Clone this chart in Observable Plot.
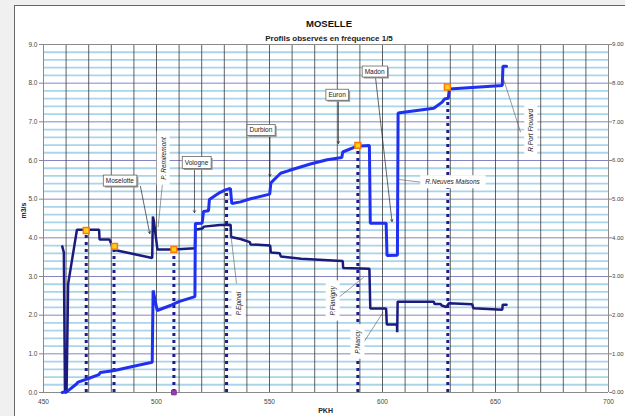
<!DOCTYPE html>
<html>
<head>
<meta charset="utf-8">
<script src="https://cdn.jsdelivr.net/npm/d3@7"></script>
<script src="https://cdn.jsdelivr.net/npm/@observablehq/plot@0.6"></script>
<style>
  body { margin: 0; background: #f0f0f0; }
  #wrap { position: relative; width: 625px; height: 416px; overflow: hidden; }
  #sheet { position: absolute; left: 14px; top: 5px; width: 700px; height: 500px; background: #fff;
           border-left: 1.5px solid #666; border-top: 1.5px solid #666; }
  #chart { position: absolute; left: 0; top: 0; }
</style>
</head>
<body>
<div id="wrap"><div id="sheet"></div><div id="chart"></div></div>
<script>
// ---- Data ----
const navyPK = [458.3, 459.0, 459.5, 460.2, 460.9, 464.8, 474.6, 474.8, 479.2, 481.0, 498.1, 498.4, 498.8, 500.4, 507.7, 517.0, 517.2, 520.2, 521.0, 528.0, 532.8, 533.0, 537.2, 541.3, 541.6, 550.3, 550.6, 554.5, 555.0, 564.0, 580.0, 582.4, 582.6, 594.2, 594.6, 601.6, 601.9, 606.4, 606.5, 606.7, 622.7, 623.0, 625.7, 626.2, 628.2, 629.4, 639.7, 640.2, 653.0, 653.2, 654.9];
const navyQ  = [3.78, 3.62, 0.00, 0.00, 2.81, 4.21, 4.21, 3.96, 3.96, 3.69, 3.48, 4.55, 4.45, 3.70, 3.70, 3.73, 4.21, 4.24, 4.29, 4.33, 4.34, 4.02, 3.97, 3.89, 3.83, 3.80, 3.62, 3.60, 3.52, 3.46, 3.41, 3.40, 3.22, 3.20, 2.17, 2.17, 1.76, 1.76, 1.56, 2.35, 2.35, 2.29, 2.29, 2.25, 2.21, 2.31, 2.28, 2.18, 2.14, 2.27, 2.27];

const bluePK = [458.3, 460.5, 464.6, 465.3, 469.3, 474.5, 475.2, 481.4, 491.4, 498.1, 498.5, 500.3, 506.2, 507.7, 509.9, 517.0, 517.2, 520.2, 520.8, 523.0, 523.4, 528.0, 530.5, 532.7, 533.3, 537.2, 541.6, 550.1, 550.6, 554.9, 558.6, 568.1, 575.5, 582.0, 582.4, 588.8, 594.2, 594.6, 601.6, 602.0, 606.6, 606.9, 622.7, 626.4, 627.4, 629.1, 629.6, 653.0, 653.3, 654.9];
const blueQ  = [0.00, 0.03, 0.22, 0.27, 0.35, 0.46, 0.52, 0.57, 0.70, 0.78, 2.64, 2.12, 2.25, 2.29, 2.35, 2.48, 4.37, 4.38, 4.68, 4.70, 4.99, 5.17, 5.24, 5.28, 4.89, 4.93, 5.01, 5.13, 5.42, 5.67, 5.74, 5.91, 6.02, 6.08, 6.22, 6.37, 6.39, 4.38, 4.38, 3.54, 3.55, 7.23, 7.35, 7.51, 7.59, 7.61, 7.85, 7.94, 8.44, 8.44];

const markPK = [468.9, 481.4, 507.7, 589.1, 628.7];
const markQ  = [4.19, 3.78, 3.70, 6.39, 7.90];
const zeroMarkPK = [507.7];
const zeroMarkQ  = [0];

const dotPK  = [468.9, 481.2, 507.7, 531.0, 589.1, 628.9];
const dotTop = [4.19, 3.78, 3.70, 5.24, 6.39, 7.60];

const boxLabels = ["Moselotte", "Vologne", "Durbion", "Euron", "Madon"];
const boxPK = [483.8, 517.7, 546.2, 579.9, 596.5];
const boxQ  = [5.47, 5.95, 6.78, 7.69, 8.29];
const arrowPK1 = [492.9, 516.8, 550.2, 580.5, 596.9];
const arrowQ1  = [5.33, 5.79, 6.62, 7.53, 8.15];
const arrowPK2 = [497.0, 516.8, 550.2, 580.5, 604.2];
const arrowQ2  = [4.11, 4.65, 5.59, 6.44, 4.42];

const rotLabels = ["P. Remiremont", "P.Epinal", "P.Flavigny", "P.Nancy", "R.Port Frouard"];
const rotPK = [503.1, 536.3, 577.9, 588.9, 665.8];
const rotQ  = [6.05, 2.30, 2.37, 1.31, 6.78];
const horLabels = ["R.Neuves Maisons"];
const horPK = [631.0];
const horQ  = [5.44];
const leadPK1 = [502.7, 532.7, 580.0, 591.6, 607.1, 653.2];
const leadQ1  = [5.44, 4.19, 2.43, 1.29, 5.51, 8.17];
const leadPK2 = [500.7, 535.4, 591.7, 600.3, 618.1, 661.1];
const leadQ2  = [4.27, 2.82, 2.98, 2.08, 5.43, 6.73];

const xTicks = [450, 500, 550, 600, 650, 700];
const yTicks = [0, 1, 2, 3, 4, 5, 6, 7, 8, 9];
const vGrid = d3.range(460, 700, 10);
const minorQ = d3.range(0.2, 9, 0.2).filter(v => Math.abs(v - Math.round(v)) > 0.05);

const idx = a => a.map((_, i) => i);

const plot = Plot.plot({
  width: 625, height: 416,
  marginLeft: 43, marginRight: 17, marginTop: 44, marginBottom: 24,
  style: {background: "transparent", fontFamily: "'Liberation Sans', Arial, sans-serif", fontSize: "7px"},
  x: {domain: [450, 700]},
  y: {domain: [0, 9]},
  marks: [
    Plot.ruleY(minorQ, {stroke: "#a9d4ea", strokeWidth: 1.8}),
    Plot.ruleY(yTicks.slice(1, -1), {stroke: "#8585c6", strokeWidth: 1}),
    Plot.ruleX(vGrid, {stroke: "#3a3a3a", strokeWidth: 0.8}),
    Plot.ruleX([450, 700], {stroke: "#8a8a8a", strokeWidth: 1}),
    Plot.ruleY([0, 9], {stroke: "#8a8a8a", strokeWidth: 1}),
    Plot.axisY(yTicks, {anchor: "left", tickFormat: d => d.toFixed(1), tickSize: 4, tickPadding: 2, stroke: "#888", fill: "#444", fontSize: 6.5, label: null}),
    Plot.axisY(yTicks, {anchor: "right", tickFormat: d => d.toFixed(2), tickSize: 3, tickPadding: 0.5, stroke: "#888", fill: "#444", fontSize: 6, label: null}),
    Plot.axisX(xTicks, {tickSize: 0, tickPadding: 7, fill: "#444", fontSize: 6.5, label: null}),
    Plot.ruleX(idx(dotPK), {x: i => dotPK[i], y1: 0, y2: i => dotTop[i], stroke: "#1c1c8c", strokeWidth: 3, strokeDasharray: "3,4"}),
    Plot.line(idx(navyPK), {x: i => navyPK[i], y: i => navyQ[i], stroke: "#1b1b7d", strokeWidth: 2.5, strokeLinejoin: "miter"}),
    Plot.line(idx(bluePK), {x: i => bluePK[i], y: i => blueQ[i], stroke: "#1f30f0", strokeWidth: 3, strokeLinejoin: "miter"}),
    Plot.dot(idx(markPK), {x: i => markPK[i], y: i => markQ[i], symbol: "square", r: 3.3, fill: "#ffd21f", stroke: "#ff7a00", strokeWidth: 1.5}),
    Plot.dot(idx(zeroMarkPK), {x: i => zeroMarkPK[i], y: i => zeroMarkQ[i], symbol: "square", r: 2.6, fill: "#9b3fb0", stroke: "#7a2a90", strokeWidth: 1}),
    Plot.link(idx(leadPK1), {x1: i => leadPK1[i], y1: i => leadQ1[i], x2: i => leadPK2[i], y2: i => leadQ2[i], stroke: "#555", strokeWidth: 0.6}),
    Plot.arrow(idx(arrowPK1), {x1: i => arrowPK1[i], y1: i => arrowQ1[i], x2: i => arrowPK2[i], y2: i => arrowQ2[i], stroke: "#222", strokeWidth: 0.7, headLength: 5}),
    Plot.text(idx(rotLabels), {x: i => rotPK[i], y: i => rotQ[i], text: i => rotLabels[i], rotate: -90, fontStyle: "italic", fontSize: 6.5, fill: "#222", className: "plainlab"}),
    Plot.text(idx(horLabels), {x: i => horPK[i], y: i => horQ[i], text: i => horLabels[i], fontStyle: "italic", fontSize: 6.5, fill: "#222", className: "plainlab"}),
    Plot.text(idx(boxLabels), {x: i => boxPK[i], y: i => boxQ[i], text: i => boxLabels[i], fontSize: 6.5, fill: "#222", className: "boxlab"}),
    Plot.text(["MOSELLE"], {frameAnchor: "top", dx: 3, dy: -24, fontWeight: "bold", fontSize: 9.5, fill: "#111"}),
    Plot.text(["Profils observés en fréquence 1/5"], {frameAnchor: "top", dx: 3, dy: -9, fontWeight: "bold", fontSize: 8, fill: "#222"}),
    Plot.text(["m3/s"], {frameAnchor: "left", y: 4.5, dx: -20, rotate: -90, fontWeight: "bold", fontSize: 7, fill: "#222"}),
    Plot.text(["PKH"], {frameAnchor: "bottom", x: 574.8, dy: 20, fontWeight: "bold", fontSize: 7, fill: "#222"})
  ]
});

document.getElementById("chart").append(plot);

const NS = "http://www.w3.org/2000/svg";
function boxify(selector, padX, padY, boxed) {
  plot.querySelectorAll(selector + " text").forEach(t => {
    const b = t.getBBox();
    const tr = t.getAttribute("transform");
    const mk = (dx, dy, fill, stroke) => {
      const r = document.createElementNS(NS, "rect");
      r.setAttribute("x", b.x - padX + dx);
      r.setAttribute("y", b.y - padY + dy);
      r.setAttribute("width", b.width + 2 * padX);
      r.setAttribute("height", b.height + 2 * padY);
      r.setAttribute("fill", fill);
      if (stroke) { r.setAttribute("stroke", stroke); r.setAttribute("stroke-width", 0.8); }
      if (tr) r.setAttribute("transform", tr);
      t.parentNode.insertBefore(r, t);
    };
    if (boxed) mk(1.5, 1.5, "#9a9a9a", null);
    mk(0, 0, "#ffffff", boxed ? "#666" : null);
  });
}
boxify("g.plainlab", 5, 3, false);
boxify("g.boxlab", 2.5, 2, true);
</script>
</body>
</html>
